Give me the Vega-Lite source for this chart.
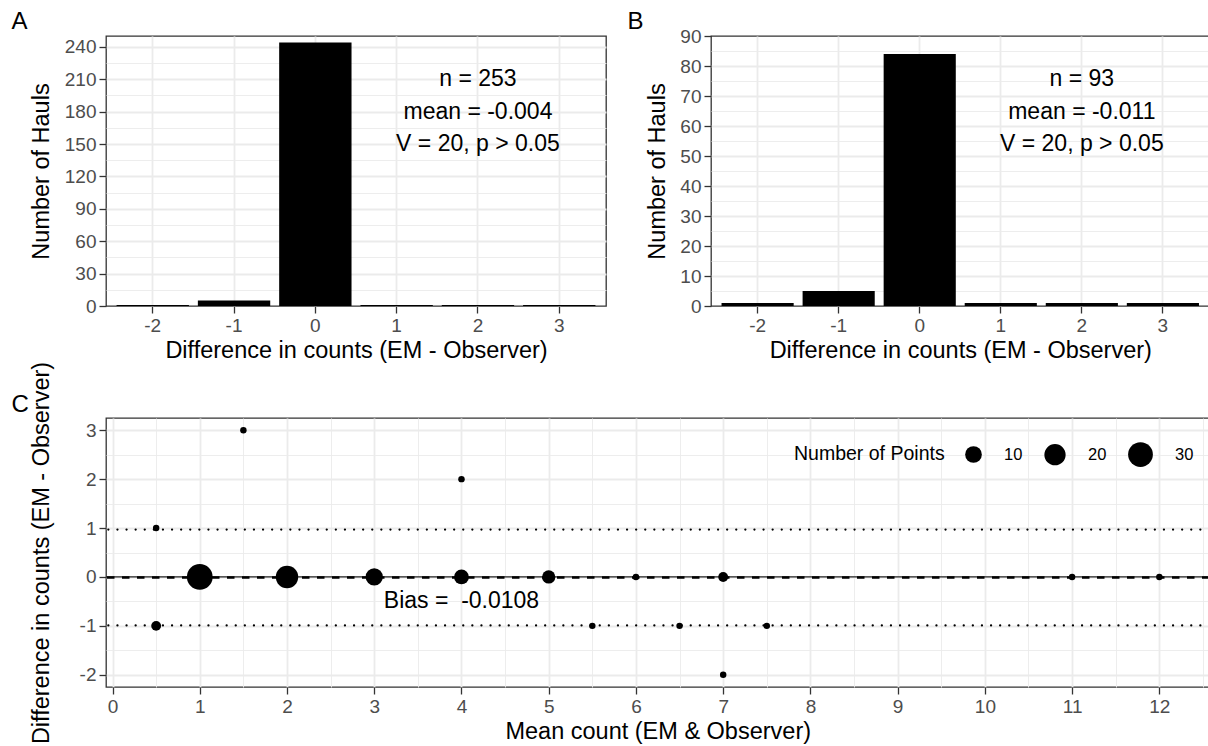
{
  "$schema": "https://vega.github.io/schema/vega-lite/v6.json",
  "padding": {"left": 10, "top": 9, "right": 0, "bottom": 0},
  "background": "white",
  "config": {
    "font": "Liberation Sans",
    "view": {"stroke": "#333333", "strokeWidth": 1.3},
    "axis": {
      "domain": false,
      "grid": false,
      "gridColor": "#EBEBEB",
      "tickColor": "#333333",
      "tickSize": 7,
      "tickWidth": 1.3,
      "labelColor": "#4D4D4D",
      "labelFontSize": 19,
      "labelFont": "Liberation Sans",
      "labelPadding": 3,
      "titleFont": "Liberation Sans",
      "titleFontSize": 23.5,
      "titleFontWeight": "normal",
      "titleColor": "black"
    },
    "title": {"font": "Liberation Sans", "fontSize": 24, "fontWeight": "normal", "color": "black", "anchor": "start", "frame": "group", "baseline": "alphabetic", "offset": 3},
    "text": {"font": "Liberation Sans", "fontSize": 23, "color": "black"}
  },
  "spacing": -3,
  "vconcat": [
    {
      "bounds": "flush",
      "spacing": 105,
      "hconcat": [
        {
          "width": 500,
          "height": 270,
          "title": {"text": "A", "dx": -94.5, "offset": 2},
          "resolve": {"axis": {"y": "independent"}},
          "layer": [
            {
              "data": {"values": [
                {"diff": -2, "hauls": 1},
                {"diff": -1, "hauls": 5},
                {"diff": 0, "hauls": 244},
                {"diff": 1, "hauls": 1},
                {"diff": 2, "hauls": 1},
                {"diff": 3, "hauls": 1}
              ]},
              "mark": {"type": "bar", "color": "black"},
              "encoding": {
                "x": {"field": "diff", "type": "ordinal", "scale": {"paddingInner": 0.11, "paddingOuter": 0.13},
                  "axis": {"title": "Difference in counts (EM - Observer)", "labelAngle": 0, "grid": true, "gridWidth": 1.8, "bandPosition": 0.5, "titlePadding": 3}},
                "y": {"field": "hauls", "type": "quantitative", "scale": {"domain": [0, 250], "nice": false},
                  "axis": {"orient": "left", "title": "Number of Hauls", "values": [0, 30, 60, 90, 120, 150, 180, 210, 240], "titlePadding": 11}}
              }
            },
            {
              "data": {"values": [
                {"diff": 2, "hauls": 210, "label": "n = 253"},
                {"diff": 2, "hauls": 180, "label": "mean = -0.004"},
                {"diff": 2, "hauls": 150, "label": "V = 20, p > 0.05"}
              ]},
              "mark": {"type": "text", "baseline": "middle", "align": "center"},
              "encoding": {
                "x": {"field": "diff", "type": "ordinal"},
                "y": {"field": "hauls", "type": "quantitative",
                  "axis": {"orient": "left", "title": null, "labels": false, "ticks": false, "grid": true,
                    "values": [15, 30, 45, 60, 75, 90, 105, 120, 135, 150, 165, 180, 195, 210, 225, 240],
                    "gridWidth": {"condition": {"test": "datum.value % 30 === 0", "value": 1.8}, "value": 0.9}}},
                "text": {"field": "label"}
              }
            }
          ]
        },
        {
          "width": 498.5,
          "height": 270,
          "title": {"text": "B", "dx": -83.5, "offset": -7},
          "resolve": {"axis": {"y": "independent"}},
          "layer": [
            {
              "data": {"values": [
                {"diff": -2, "hauls": 1},
                {"diff": -1, "hauls": 5},
                {"diff": 0, "hauls": 84},
                {"diff": 1, "hauls": 1},
                {"diff": 2, "hauls": 1},
                {"diff": 3, "hauls": 1}
              ]},
              "mark": {"type": "bar", "color": "black"},
              "encoding": {
                "x": {"field": "diff", "type": "ordinal", "scale": {"paddingInner": 0.11, "paddingOuter": 0.13},
                  "axis": {"title": "Difference in counts (EM - Observer)", "labelAngle": 0, "grid": true, "gridWidth": 1.8, "bandPosition": 0.5, "titlePadding": 3}},
                "y": {"field": "hauls", "type": "quantitative", "scale": {"domain": [0, 90], "nice": false},
                  "axis": {"orient": "left", "title": "Number of Hauls", "values": [0, 10, 20, 30, 40, 50, 60, 70, 80, 90], "titlePadding": 10}}
              }
            },
            {
              "data": {"values": [
                {"diff": 2, "hauls": 75.6, "label": "n = 93"},
                {"diff": 2, "hauls": 64.8, "label": "mean = -0.011"},
                {"diff": 2, "hauls": 54, "label": "V = 20, p > 0.05"}
              ]},
              "mark": {"type": "text", "baseline": "middle", "align": "center"},
              "encoding": {
                "x": {"field": "diff", "type": "ordinal"},
                "y": {"field": "hauls", "type": "quantitative",
                  "axis": {"orient": "left", "title": null, "labels": false, "ticks": false, "grid": true,
                    "values": [5, 10, 15, 20, 25, 30, 35, 40, 45, 50, 55, 60, 65, 70, 75, 80, 85],
                    "gridWidth": {"condition": {"test": "datum.value % 10 === 0", "value": 1.8}, "value": 0.9}}},
                "text": {"field": "label"}
              }
            }
          ]
        }
      ]
    },
    {
      "width": 1103.5,
      "height": 269,
      "title": {"text": "C", "dx": -94.5, "offset": -56},
      "resolve": {"axis": {"x": "independent", "y": "independent"}},
      "layer": [
        {
          "data": {"values": [{"mean": 4, "diff": -0.5, "label": "Bias = \u00a0-0.0108"}]},
          "mark": {"type": "text", "baseline": "middle", "align": "center"},
          "encoding": {
            "x": {"field": "mean", "type": "quantitative", "scale": {"domain": [-0.075, 12.575], "nice": false, "zero": false},
              "axis": {"orient": "bottom", "title": null, "labels": false, "ticks": false, "grid": true,
                "values": [0, 0.5, 1, 1.5, 2, 2.5, 3, 3.5, 4, 4.5, 5, 5.5, 6, 6.5, 7, 7.5, 8, 8.5, 9, 9.5, 10, 10.5, 11, 11.5, 12, 12.5],
                "gridWidth": {"condition": {"test": "datum.value % 1 === 0", "value": 1.8}, "value": 0.9}}},
            "y": {"field": "diff", "type": "quantitative", "scale": {"domain": [-2.25, 3.25], "nice": false, "zero": false},
              "axis": {"orient": "left", "title": null, "labels": false, "ticks": false, "grid": true,
                "values": [-2, -1.5, -1, -0.5, 0, 0.5, 1, 1.5, 2, 2.5, 3],
                "gridWidth": {"condition": {"test": "datum.value % 1 === 0", "value": 1.8}, "value": 0.9}}},
            "text": {"field": "label"}
          }
        },
        {
          "data": {"values": [{"diff": 0}]},
          "mark": {"type": "rule", "color": "#222222", "strokeWidth": 1.2},
          "encoding": {"y": {"field": "diff", "type": "quantitative", "axis": null}}
        },
        {
          "data": {"values": [{"diff": -0.0108}]},
          "mark": {"type": "rule", "color": "black", "strokeWidth": 2.4, "strokeDash": [7.5, 7.5]},
          "encoding": {"y": {"field": "diff", "type": "quantitative", "axis": null}}
        },
        {
          "data": {"values": [{"diff": 0.969}, {"diff": -0.9905}]},
          "mark": {"type": "rule", "color": "black", "strokeWidth": 2.2, "strokeDash": [0.1, 9], "strokeCap": "round"},
          "encoding": {"y": {"field": "diff", "type": "quantitative", "axis": null}}
        },
        {
          "data": {"values": [
            {"mean": 0.5, "diff": 1, "n": 1},
            {"mean": 0.5, "diff": -1, "n": 2},
            {"mean": 1, "diff": 0, "n": 33},
            {"mean": 1.5, "diff": 3, "n": 1},
            {"mean": 2, "diff": 0, "n": 23},
            {"mean": 3, "diff": 0, "n": 11},
            {"mean": 4, "diff": 2, "n": 1},
            {"mean": 4, "diff": 0, "n": 7},
            {"mean": 5, "diff": 0, "n": 5},
            {"mean": 5.5, "diff": -1, "n": 1},
            {"mean": 6, "diff": 0, "n": 1},
            {"mean": 6.5, "diff": -1, "n": 1},
            {"mean": 7, "diff": 0, "n": 2},
            {"mean": 7, "diff": -2, "n": 1},
            {"mean": 7.5, "diff": -1, "n": 1},
            {"mean": 11, "diff": 0, "n": 1},
            {"mean": 12, "diff": 0, "n": 1}
          ]},
          "mark": {"type": "circle", "color": "black", "opacity": 1},
          "encoding": {
            "x": {"field": "mean", "type": "quantitative",
              "axis": {"orient": "bottom", "title": "Mean count (EM & Observer)", "values": [0, 1, 2, 3, 4, 5, 6, 7, 8, 9, 10, 11, 12], "titlePadding": 3}},
            "y": {"field": "diff", "type": "quantitative",
              "axis": {"orient": "left", "title": "Difference in counts (EM - Observer)", "values": [-2, -1, 0, 1, 2, 3], "labelExpr": "'' + datum.value", "titlePadding": 26}},
            "size": {"field": "n", "type": "quantitative",
              "scale": {"type": "linear", "zero": false, "domain": [1, 2, 5, 7, 10, 11, 20, 23, 33], "range": [41.7, 97.3, 175.8, 218.8, 277.6, 296.2, 452.4, 502.3, 660.5]},
              "legend": {"title": "Number of Points", "orient": "none", "legendX": 688, "legendY": 406, "direction": "horizontal", "titleOrient": "left",
                "values": [10, 20, 30], "symbolType": "circle", "symbolFillColor": "black", "symbolStrokeWidth": 0, "symbolOpacity": 1,
                "labelFontSize": 16.5, "labelColor": "black", "titleFontSize": 19.5, "titleFontWeight": "normal", "titleColor": "black",
                "titleBaseline": "middle", "titleAnchor": "middle", "titlePadding": 20, "columnPadding": 21, "labelOffset": 22}}
          }
        }
      ]
    }
  ]
}
